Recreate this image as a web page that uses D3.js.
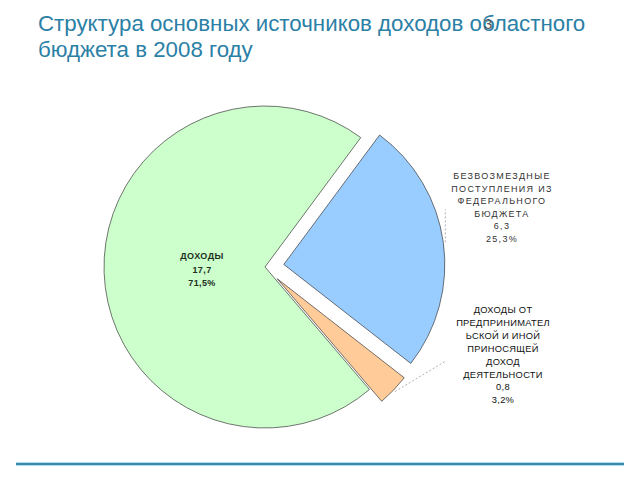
<!DOCTYPE html>
<html><head><meta charset="utf-8">
<script src="https://cdn.jsdelivr.net/npm/d3@7"></script>
<style>
html,body{margin:0;padding:0;background:#fff;}
svg{display:block;font-family:"Liberation Sans",Arial,sans-serif;}
</style></head>
<body>
<svg id="c" width="640" height="480"></svg>
<script>
// Data
const titleLines = ["Структура основных источников доходов областного", "бюджета в 2008 году"];
const slideNumber = "3";
const categories = ["БЕЗВОЗМЕЗДНЫЕ ПОСТУПЛЕНИЯ ИЗ ФЕДЕРАЛЬНОГО БЮДЖЕТА",
                    "ДОХОДЫ ОТ ПРЕДПРИНИМАТЕЛЬСКОЙ И ИНОЙ ПРИНОСЯЩЕЙ ДОХОД ДЕЯТЕЛЬНОСТИ",
                    "ДОХОДЫ"];
const labelLines = [
  ["БЕЗВОЗМЕЗДНЫЕ","ПОСТУПЛЕНИЯ ИЗ","ФЕДЕРАЛЬНОГО","БЮДЖЕТА"],
  ["ДОХОДЫ  ОТ","ПРЕДПРИНИМАТЕЛ","ЬСКОЙ И ИНОЙ","ПРИНОСЯЩЕЙ","ДОХОД","ДЕЯТЕЛЬНОСТИ"],
  ["ДОХОДЫ"]
];
const values = [6.3, 0.8, 17.7];
const valueLabels = ["6,3", "0,8", "17,7"];
const percentLabels = ["25,3%", "3,2%", "71,5%"];
const colors = ["#99ccff", "#ffcc99", "#ccffcc"];
const explode = [19, 17, 0];

const svg = d3.select("#c");

// Title
const title = svg.append("text").attr("fill", "#2b80a6")
  .attr("font-family", "'Liberation Sans', Arial, sans-serif").attr("font-size", 22.3);
const tsp = titleLines.map((t, i) => title.append("tspan").attr("x", 38).attr("y", 31 + i * 26).text(t));

// Bottom rule
svg.append("line").attr("x1", 16).attr("x2", 624).attr("y1", 464).attr("y2", 464)
  .attr("stroke", "#a9dcef").attr("stroke-width", 4);
svg.append("line").attr("x1", 16).attr("x2", 624).attr("y1", 464).attr("y2", 464)
  .attr("stroke", "#3a8aa8").attr("stroke-width", 2);

// Pie
const cx = 265, cy = 267, R = 161;
const pie = d3.pie().sort(null).value(d => d)
  .startAngle(36.5 * Math.PI / 180).endAngle(36.5 * Math.PI / 180 + 2 * Math.PI);
const arcs = pie(values);
const arc = d3.arc().innerRadius(0).outerRadius(R);
const g = svg.append("g").attr("transform", `translate(${cx},${cy})`);
function off(d, i, r) {
  const a = (d.startAngle + d.endAngle) / 2;
  return [Math.sin(a) * r, -Math.cos(a) * r];
}
g.selectAll("path").data(arcs).join("path")
  .attr("d", arc)
  .attr("transform", (d, i) => { const o = off(d, i, explode[i]); return `translate(${o[0]},${o[1]})`; })
  .attr("fill", (d, i) => colors[i])
  .attr("stroke", "#3a3a3a").attr("stroke-width", 0.7).attr("stroke-linejoin", "miter");

// Leader lines
const lead = g.append("g").attr("stroke", "#999").attr("stroke-width", 0.8)
  .attr("stroke-dasharray", "2,2").attr("fill", "none");
{
  const d = arcs[0]; const o = off(d, 0, explode[0] + R + 2);
  lead.append("line").attr("x1", o[0]).attr("y1", o[1]).attr("x2", o[0]).attr("y2", o[1] - 33);
}
{
  const d = arcs[1]; const o = off(d, 1, explode[1] + R + 2);
  lead.append("line").attr("x1", o[0]).attr("y1", o[1]).attr("x2", o[0] + 50).attr("y2", o[1] - 30);
}

// Labels
function label(x, y0, lines, dy, fill, weight, size, ls) {
  const t = svg.append("text").attr("text-anchor", "middle").attr("fill", fill)
    .attr("font-weight", weight).attr("font-size", size).attr("letter-spacing", ls);
  lines.forEach((l, i) => t.append("tspan").attr("x", x).attr("y", y0 + i * dy).text(l));
}
label(502, 179, [...labelLines[0], valueLabels[0], percentLabels[0]], 12.6, "#333", "normal", 9, 1.3);
label(503, 313, [...labelLines[1], valueLabels[1], percentLabels[1]], 12.9, "#111", "normal", 9.3, 0.3);
label(202, 259, [...labelLines[2], valueLabels[2], percentLabels[2]], 13.5, "#1d2f1d", "bold", 9, 0.4);

// Slide number, overlapping the "б" of "областного" as in the reference
const line1 = tsp[0].node();
const bi = titleLines[0].indexOf("областного") + 1;
const bp = line1.getStartPositionOfChar(bi);
svg.append("text").attr("x", bp.x + 2).attr("y", 29).attr("font-size", 15)
  .attr("fill", "#555").text(slideNumber);
</script>
</body></html>
